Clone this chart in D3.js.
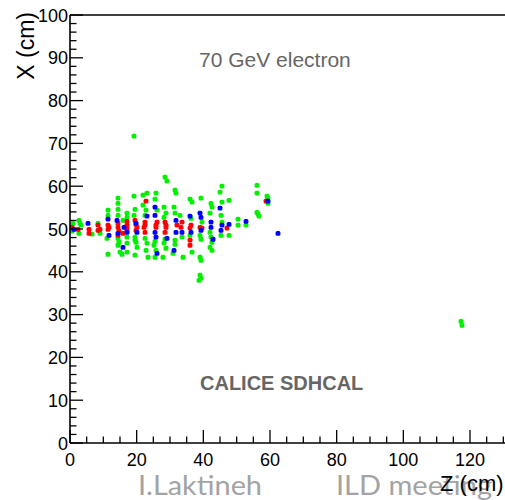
<!DOCTYPE html>
<html>
<head>
<meta charset="utf-8">
<script src="https://cdn.jsdelivr.net/npm/d3@7"></script>
<style>
  html, body { margin: 0; padding: 0; background: #fff; }
  svg { display: block; }
</style>
</head>
<body>
<svg id="chart" width="505" height="500"></svg>
<script>
// Event display: hit positions [Z (cm), X (cm)] grouped by threshold colour
const greenHits = [
  [0.9,51.3],[2.7,52.0],[3.0,51.3],[3.3,50.9],[2.7,49.0],[0.6,49.5],[6.6,48.8],[8.4,51.3],[9.0,49.0],
  [11.4,53.2],[11.1,47.8],[11.4,44.1],[11.4,54.4],
  [14.4,57.2],[14.4,56.0],[14.4,53.2],[14.4,47.8],[14.7,46.9],[14.4,46.2],[15.0,44.6],[15.6,44.1],[15.9,52.0],[14.4,54.6],
  [17.1,53.7],[17.1,48.1],[17.1,46.7],[17.1,44.6],[17.1,52.7],
  [19.2,57.7],[19.5,54.6],[19.2,53.2],[19.5,48.1],[19.8,46.9],[20.1,45.7],[19.5,43.9],[19.5,47.4],
  [21.9,57.9],[23.1,58.4],[21.9,55.6],[22.8,54.4],[22.5,47.8],[23.1,46.7],[22.8,45.0],[23.4,43.4],[22.5,53.2],
  [25.8,58.4],[25.5,57.0],[26.1,54.4],[25.2,46.2],[25.8,45.0],[25.5,43.4],[25.5,47.1],
  [28.2,55.1],[28.8,53.7],[28.2,52.7],[28.2,46.7],[28.8,45.5],[27.9,43.4],[28.5,62.1],[29.1,61.2],[28.5,47.6],
  [31.5,59.1],[31.8,58.4],[31.2,55.1],[31.5,53.7],[31.5,47.4],[30.9,44.3],[31.5,46.4],
  [33.0,53.2],[33.6,48.1],[33.9,43.4],
  [36.0,57.0],[36.6,56.3],[36.3,52.5],[36.0,48.5],[36.6,44.6],
  [39.3,57.2],[39.6,51.6],[39.0,48.5],[39.3,47.6],[39.0,43.4],[39.3,42.7],[39.0,39.2],[39.3,38.5],[38.7,38.0],
  [42.3,56.0],[42.6,55.1],[42.0,53.7],[42.0,49.2],[42.3,48.1],[42.6,46.9],[42.0,45.7],[42.6,45.0],
  [45.6,60.0],[45.0,58.6],[45.6,56.3],[45.3,53.2],[45.6,51.6],[45.3,48.5],
  [47.7,56.7],[47.7,48.5],[50.4,52.3],[50.4,50.9],[52.8,50.9],
  [56.1,60.2],[56.1,58.4],[56.1,53.9],[56.4,53.5],[56.7,53.0],
  [59.1,57.7],[59.4,57.2],[59.4,56.0],
  [19.2,71.7],[117.3,28.4],[117.6,27.5]
];
const redHits = [
  [0.6,50.4],[2.4,49.9],[5.7,49.9],[5.7,49.0],[8.4,50.9],[9.0,49.9],[8.4,49.7],
  [11.4,50.9],[11.7,50.4],[11.4,49.9],[14.4,51.3],[14.4,50.4],[14.7,49.5],[14.4,48.5],[15.9,49.0],
  [17.1,51.8],[17.1,50.9],[17.1,50.2],[17.1,49.5],
  [19.5,52.0],[20.1,50.4],[19.8,49.7],[19.8,51.1],
  [22.8,56.5],[22.5,51.6],[22.2,50.4],[22.5,49.2],[22.5,50.9],
  [26.1,51.6],[25.8,50.4],[25.8,50.9],
  [28.5,51.6],[28.8,50.4],[28.5,49.2],[28.8,50.9],
  [32.1,50.9],[33.6,51.6],[33.3,50.4],
  [36.3,50.9],[36.0,50.2],[36.0,47.4],[36.0,46.2],
  [39.0,50.4],[39.6,50.2],[47.1,50.2],[58.8,56.5]
];
const blueHits = [
  [1.2,49.9],[5.4,51.3],[11.4,52.3],[11.7,48.5],[14.1,52.0],[14.4,49.0],[15.9,45.7],[16.2,50.4],
  [17.1,49.2],[19.8,51.3],[20.1,49.2],[23.1,53.0],
  [25.5,55.1],[25.5,53.2],[25.5,49.2],[25.8,48.1],[26.1,44.3],[29.1,47.8],
  [31.8,52.0],[31.8,49.2],[31.2,45.0],[33.6,49.2],
  [36.0,53.0],[36.3,49.2],[39.0,53.7],[39.3,52.7],[39.3,49.7],
  [42.3,51.6],[42.3,50.4],[42.9,47.6],[45.0,54.9],[45.6,50.9],[45.3,49.7],
  [47.7,51.1],[52.8,51.8],[59.4,56.5],[62.4,49.0]
];

const zMajor = [0, 20, 40, 60, 80, 100, 120];
const xMajor = [0, 10, 20, 30, 40, 50, 60, 70, 80, 90, 100];

const svg = d3.select("#chart");
const FONT = "'Liberation Sans', Arial, Helvetica, sans-serif";
const SLIDE_FONT = "Lato, 'Open Sans', sans-serif";

const zScale = d3.scaleLinear().domain([0, 130.5]).range([70, 505]);
const xScale = d3.scaleLinear().domain([0, 100]).range([443, 15]);

// Hits
const hitLayer = svg.append("g");
[[greenHits, "#00f000"], [redHits, "#ff0000"], [blueHits, "#0000ff"]].forEach(([hits, col]) => {
  hitLayer.selectAll(null)
    .data(hits)
    .enter().append("rect")
    .attr("x", d => zScale(d[0]) - 2.4)
    .attr("y", d => xScale(d[1]) - 2.4)
    .attr("width", 4.8)
    .attr("height", 4.8)
    .attr("rx", 1.5)
    .attr("fill", col);
});

// Frame (left, bottom, top)
const frame = svg.append("g").attr("stroke", "#000").attr("fill", "none");
frame.append("line").attr("x1", zScale(0)).attr("x2", zScale(0)).attr("y1", xScale(100)).attr("y2", xScale(0)).attr("stroke-width", 1.6);
frame.append("line").attr("x1", zScale(0)).attr("x2", 505).attr("y1", xScale(0)).attr("y2", xScale(0)).attr("stroke-width", 1.6);
frame.append("line").attr("x1", zScale(0)).attr("x2", 505).attr("y1", xScale(100)).attr("y2", xScale(100)).attr("stroke-width", 1.6);

// Z axis ticks pointing up into the frame
const zMinor = d3.range(0, 131, 5);
frame.selectAll(null).data(zMinor).enter().append("line")
  .attr("x1", d => zScale(d)).attr("x2", d => zScale(d))
  .attr("y1", xScale(0))
  .attr("y2", d => xScale(0) - (d % 20 === 0 ? 13 : 6.5))
  .attr("stroke-width", 1.3);

// X axis ticks pointing right into the frame
const xMinor = d3.range(0, 101, 2);
frame.selectAll(null).data(xMinor).enter().append("line")
  .attr("y1", d => xScale(d)).attr("y2", d => xScale(d))
  .attr("x1", zScale(0))
  .attr("x2", d => zScale(0) + (d % 10 === 0 ? 13 : 6.5))
  .attr("stroke-width", 1.3);

// Tick labels
svg.append("g").selectAll(null).data(zMajor).enter().append("text")
  .attr("x", d => zScale(d))
  .attr("y", 466)
  .attr("text-anchor", "middle")
  .attr("font-family", FONT).attr("font-size", 18)
  .text(d => d);

svg.append("g").selectAll(null).data(xMajor).enter().append("text")
  .attr("x", 68)
  .attr("y", d => xScale(d) + 6.5)
  .attr("text-anchor", "end")
  .attr("font-family", FONT).attr("font-size", 18)
  .text(d => d);

// Footer line of the slide
svg.append("text").attr("x", 138).attr("y", 495)
  .attr("font-family", SLIDE_FONT).attr("font-size", 26)
  .attr("textLength", 124).attr("lengthAdjust", "spacingAndGlyphs")
  .attr("fill", "#a3a3a3").text("I.Laktineh");
svg.append("text").attr("x", 336).attr("y", 495)
  .attr("font-family", SLIDE_FONT).attr("font-size", 26)
  .attr("textLength", 156).attr("lengthAdjust", "spacingAndGlyphs")
  .attr("fill", "#a3a3a3").text("ILD meeting");

// Axis titles
svg.append("text")
  .attr("transform", "translate(34,12) rotate(-90)")
  .attr("text-anchor", "end")
  .attr("font-family", FONT).attr("font-size", 23)
  .text("X (cm)");
svg.append("text")
  .attr("x", 440).attr("y", 491)
  .attr("font-family", FONT).attr("font-size", 22)
  .text("Z (cm)");

// Annotations
svg.append("text").attr("x", 199).attr("y", 67)
  .attr("font-family", FONT).attr("font-size", 21)
  .attr("fill", "#666").text("70 GeV electron");
svg.append("text").attr("x", 200).attr("y", 390)
  .attr("font-family", FONT).attr("font-size", 20).attr("font-weight", "bold")
  .attr("fill", "#666").text("CALICE SDHCAL");
</script>
</body>
</html>
